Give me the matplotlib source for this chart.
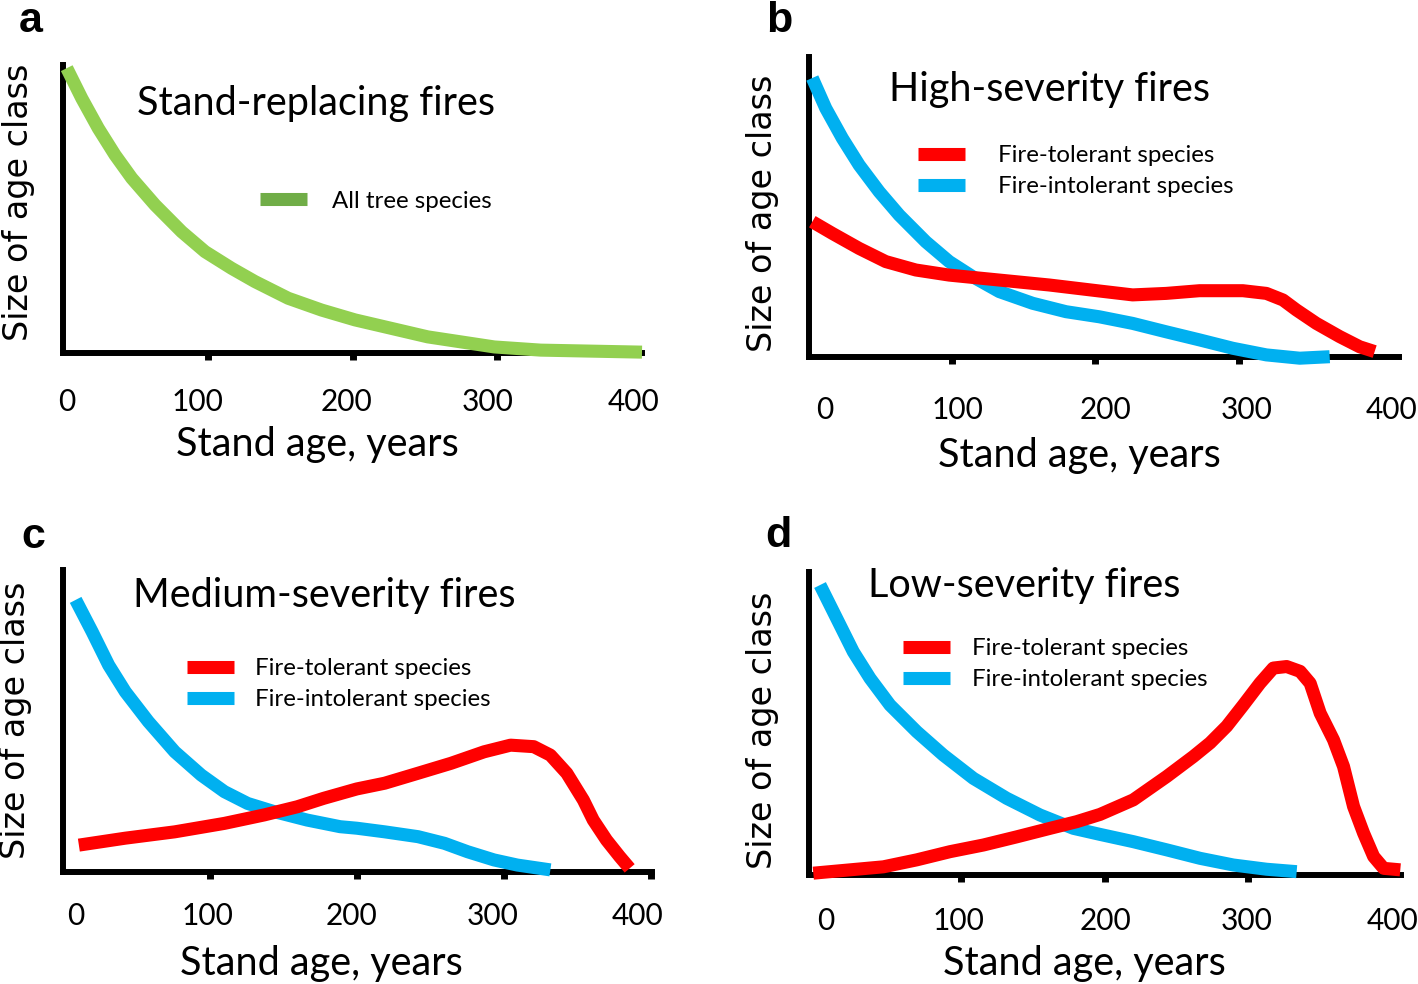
import matplotlib
matplotlib.use("Agg")
import matplotlib.pyplot as plt
from matplotlib.lines import Line2D
from matplotlib.transforms import ScaledTranslation

# ---------------- data ----------------
tick_values = [0, 100, 200, 300, 400]
tick_labels = ["0", "100", "200", "300", "400"]

# panel a: all tree species
a_age = [2.6, 13, 24.4, 35.9, 47.5, 63.6, 82, 98.1, 116.5, 132.6, 155.6, 178.7, 201.7, 252, 298, 330, 400]
a_size = [98.9, 88.4, 78, 68.8, 60.7, 51.4, 42.1, 35.2, 29.4, 24.8, 19, 14.9, 11.5, 5.6, 2.1, 1, 0.3]

# panel b: high severity
b_int_age = [2.3, 11.7, 23.3, 35, 49, 63, 81.6, 97.9, 114.2, 132.9, 156.2, 179.5, 202.8, 226, 249.4,
             272.7, 296, 319.4, 342.7, 363.6]
b_int_size = [93, 82.9, 72.9, 64, 55.1, 47.3, 38.4, 31.8, 26.8, 21.8, 17.9, 15.1, 13.4, 11.2, 8.4,
              5.7, 2.9, 0.7, -0.4, 0.1]
b_tol_age = [2.3, 16.3, 35, 53.6, 74.6, 97.9, 121.2, 144.5, 167.8, 202.8, 226, 249.4, 272.7, 303,
             319.4, 331, 340.3, 354.3, 370.6, 384.6, 395]
b_tol_size = [45.1, 41.2, 36.2, 31.8, 29, 27.3, 26.2, 25.1, 24, 22, 20.7, 21.2, 22.1, 22.1,
              21.2, 19, 15.7, 11.2, 6.8, 3.4, 1.8]

# panel c: medium severity
c_int_age = [8.6, 19.8, 31.1, 42.4, 58.1, 76.1, 94.1, 109.9, 125.7, 143.7, 166.2, 188.7, 200, 219,
             241.7, 259.7, 275.5, 293.4, 309.3, 331.8]
c_int_size = [90.1, 79.6, 68.5, 59.7, 49.8, 39.8, 32.1, 26.6, 22.7, 20, 17.2, 15, 14.5, 13.3,
              11.7, 9.5, 6.7, 4, 2.3, 0.7]
c_tol_age = [10.8, 42.4, 76.1, 109.9, 137, 159.5, 177.5, 200, 219, 241.7, 264.2, 286.7, 304.7,
             320.5, 331.8, 343, 354.3, 361, 370, 379, 385.8]
c_tol_size = [8.9, 11.2, 13.3, 16.1, 18.9, 21.6, 24.4, 27.5, 29.4, 32.7, 36, 39.8, 42,
              41.5, 38.7, 32.7, 23.8, 17.2, 10.6, 5.1, 1.2]

# panel d: low severity
d_int_age = [1.4, 13, 24.6, 36.3, 50.2, 68.9, 87.4, 108.4, 131.7, 154.9, 178.2, 196.8, 220, 243.3,
             266.6, 289.8, 313, 334]
d_int_size = [95.7, 84.7, 73.7, 64.9, 56.1, 47.3, 39.6, 31.9, 25.3, 19.8, 15.4, 13.4, 11, 8.3,
              5.5, 3.3, 1.9, 1.1]
d_tol_age = [-3.3, 22.3, 45.6, 68.9, 92.1, 115.4, 138.7, 161.9, 180.5, 196.8, 220, 243.3, 261.9,
             273.6, 285.2, 296.8, 308.4, 317.7, 327, 336.4, 343.4, 350.4, 359.7, 366.7, 373.7,
             380.7, 387.7, 394.7, 406.3]
d_tol_size = [0.6, 1.7, 2.7, 5, 7.7, 9.9, 12.6, 15.4, 17.6, 20, 24.8, 32.5, 39.1,
              43.6, 49.1, 56.1, 63.3, 68.3, 68.8, 67.2, 63.3, 53.4, 44.6, 35.8, 22.6,
              13.8, 6.1, 2.2, 1.7]

titles = ["Stand-replacing fires", "High-severity fires", "Medium-severity fires", "Low-severity fires"]
panel_letters = ["a", "b", "c", "d"]
xlabel = "Stand age, years"
ylabel = "Size of age class"
lab_all = "All tree species"
lab_tol = "Fire-tolerant species"
lab_int = "Fire-intolerant species"

RED = "#FF0000"
BLUE = "#00B0F0"
GREEN = "#92D050"
GREEN_KEY = "#70AD47"

TXT = "Lato"
W, H = 1418, 984
fig = plt.figure(figsize=(W / 100, H / 100), dpi=100)


def px_axes(l, r, t, b):
    return fig.add_axes([l / W, 1 - b / H, (r - l) / W, (b - t) / H])


specs = [
    dict(box=(63, 642, 65, 353), xlim=(0, 400), pad=20, tick400=False,
         loff=[4, -10, -6, -10, -8], xl=(0.439, -0.255), yl=(-0.048, 0.523)),
    dict(box=(809, 1399, 57, 357), xlim=(0, 412), pad=23, tick400=False,
         loff=[16, 5, 10, 8, 10], xl=(0.459, -0.265), yl=(-0.051, 0.48)),
    dict(box=(63, 652, 570, 872), xlim=(3, 401), pad=16.5, tick400=True,
         loff=[13, -2, -5, -11, -13], xl=(0.438, -0.243), yl=(-0.053, 0.503)),
    dict(box=(809, 1401, 572, 875), xlim=(-6.3, 406.8), pad=18, tick400=False,
         loff=[8, -3, 1, -1, 1], xl=(0.466, -0.232), yl=(-0.051, 0.479)),
]

axes = []
LW = 9.4
for i, s in enumerate(specs):
    ax = px_axes(*s["box"])
    ax.set_xlim(*s["xlim"])
    ax.set_ylim(0, 100)
    for sp in ["top", "right"]:
        ax.spines[sp].set_visible(False)
    for sp in ["left", "bottom"]:
        ax.spines[sp].set_linewidth(4.3)
        ax.spines[sp].set_color("black")
        ax.spines[sp].set_zorder(1)
    ax.set_yticks([])
    ax.set_xticks(tick_values)
    ax.set_xticklabels(tick_labels, fontfamily=TXT, fontsize=21.5)
    ax.tick_params(axis="x", direction="out", length=5, width=5, pad=s["pad"])
    ticks = ax.xaxis.get_major_ticks()
    ticks[0].tick1line.set_visible(False)
    if not s["tick400"]:
        ticks[-1].tick1line.set_visible(False)
    for lab, dx in zip(ax.get_xticklabels(), s["loff"]):
        lab.set_transform(lab.get_transform() + ScaledTranslation(dx / 100, 0, fig.dpi_scale_trans))
    ax.set_xlabel(xlabel, fontfamily=TXT, fontsize=28.5)
    ax.xaxis.set_label_coords(*s["xl"])
    ax.set_ylabel(ylabel, fontfamily="DejaVu Sans", fontsize=24)
    ax.yaxis.set_label_coords(*s["yl"])
    ax.patch.set_visible(False)
    axes.append(ax)

kw = dict(lw=LW, solid_capstyle="butt", solid_joinstyle="round", clip_on=False, zorder=3)
LEG_FS = 17.3

# panel a
ax = axes[0]
ax.plot(a_age, a_size, color=GREEN, **kw)
ax.legend(handles=[Line2D([], [], color=GREEN_KEY, lw=LW, solid_capstyle="butt")], labels=[lab_all],
          loc="center left", bbox_to_anchor=((260 - 63) / 579, (353 - 201) / 288),
          frameon=False, prop={"family": TXT, "size": LEG_FS}, handlelength=1.96,
          handletextpad=1.04, borderpad=0, borderaxespad=0)

# panels b, c, d
pairs = [(b_int_age, b_int_size, b_tol_age, b_tol_size),
         (c_int_age, c_int_size, c_tol_age, c_tol_size),
         (d_int_age, d_int_size, d_tol_age, d_tol_size)]
leg_pos = [(918, 171), (187, 684), (903, 664)]
leg_gap = [1.37, 0.87, 0.92]
for k, (ia, isz, ta, tsz) in enumerate(pairs):
    ax = axes[k + 1]
    l, r, t, b = specs[k + 1]["box"]
    hb, = ax.plot(ia, isz, color=BLUE, label=lab_int, **kw)
    hr, = ax.plot(ta, tsz, color=RED, label=lab_tol, **kw)
    lx, ly = leg_pos[k]
    ax.legend(handles=[hr, hb], labels=[lab_tol, lab_int],
              loc="center left", bbox_to_anchor=((lx - l) / (r - l), (b - ly) / (b - t)),
              frameon=False, prop={"family": TXT, "size": LEG_FS}, handlelength=1.96,
              handletextpad=leg_gap[k], borderpad=0, borderaxespad=0, labelspacing=0.42)

# titles
title_pos = [(137, 104), (889, 89), (133, 595), (868, 585)]
for (x, y), t in zip(title_pos, titles):
    fig.text(x / W, 1 - y / H, t, fontfamily=TXT, fontsize=28.5, ha="left", va="center")

# panel letters
letter_pos = [(31, 21), (779, 21), (33, 537), (778, 536)]
for (x, y), t in zip(letter_pos, panel_letters):
    fig.text(x / W, 1 - y / H, t, fontfamily="Liberation Sans", fontweight="bold",
             fontsize=31, ha="center", va="center")

fig.savefig("out.png", dpi=100)
